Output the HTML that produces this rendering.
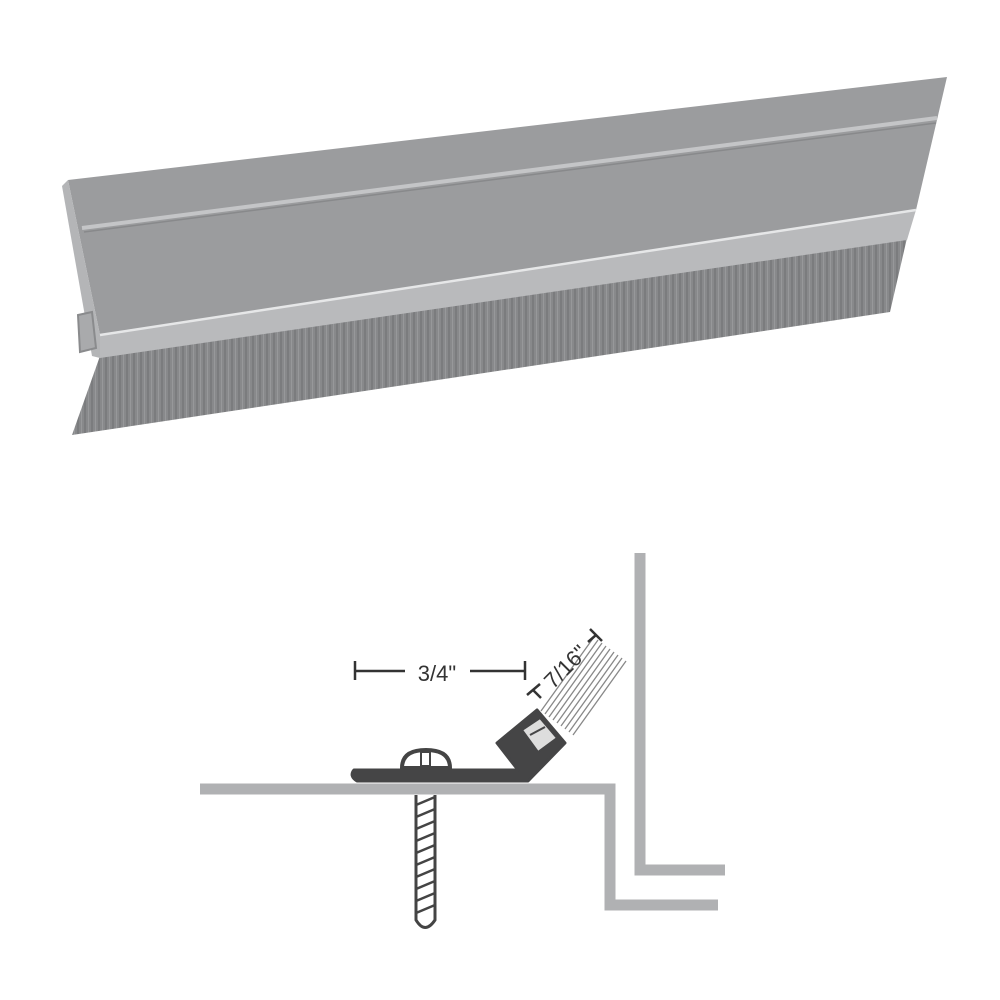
<!DOCTYPE html><html><head><style>body{margin:0;background:#fff}svg{display:block}</style></head><body>
<svg width="1000" height="1000" viewBox="0 0 1000 1000" xmlns="http://www.w3.org/2000/svg">
<defs>
<pattern id="br" width="7" height="10" patternUnits="userSpaceOnUse"><rect width="7" height="10" fill="#88898b"/><rect x="0" width="2" height="10" fill="#7b7c7e"/><rect x="4" width="1" height="10" fill="#97989a"/></pattern>
</defs>
<!-- brush -->
<polygon points="100,356 907,238 890,312 72,435" fill="url(#br)"/>
<!-- main face -->
<polygon points="68,180 947,77 916,210 100,335" fill="#9b9c9e"/>
<line x1="82" y1="228" x2="937" y2="118" stroke="#c4c5c7" stroke-width="4"/>
<line x1="84" y1="232" x2="936" y2="123" stroke="#88898b" stroke-width="1.5"/>
<!-- lower light strip -->
<polygon points="100,335 916,210 907,240 100,358" fill="#b9babc"/>
<line x1="100" y1="335" x2="916" y2="210" stroke="#e6e7e8" stroke-width="2.5"/>
<!-- end clip -->
<path d="M68,180 L100,335 L100,358 L92,356 L62,186 Z" fill="#b4b5b7"/>
<path d="M78,315 L92,312 L96,348 L80,352 Z" fill="#a9aaac" stroke="#8a8b8d" stroke-width="2"/>
<!-- bottom diagram -->
<g fill="none" stroke="#b0b1b3" stroke-width="11">
<polyline points="200,789 610,789 610,905 718,905"/>
<polyline points="640,553 640,870 725,870"/>
</g>
<!-- screw -->
<path d="M416,795 L416,920 Q425,935 435,920 L435,795" fill="#fff" stroke="#444" stroke-width="3"/>
<g stroke="#444" stroke-width="2.5"><line x1="416" y1="805" x2="435" y2="797"/><line x1="416" y1="817" x2="435" y2="809"/><line x1="416" y1="829" x2="435" y2="821"/><line x1="416" y1="841" x2="435" y2="833"/><line x1="416" y1="853" x2="435" y2="845"/><line x1="416" y1="865" x2="435" y2="857"/><line x1="416" y1="877" x2="435" y2="869"/><line x1="416" y1="889" x2="435" y2="881"/><line x1="416" y1="901" x2="435" y2="893"/><line x1="416" y1="913" x2="435" y2="905"/></g>
<!-- brush on bracket -->
<g stroke="#888" stroke-width="1.3">
<line x1="545" y1="714" x2="598" y2="640"/><line x1="549" y1="717" x2="602" y2="643"/><line x1="553" y1="720" x2="606" y2="646"/><line x1="557" y1="723" x2="610" y2="649"/><line x1="561" y1="726" x2="614" y2="652"/><line x1="565" y1="729" x2="618" y2="655"/><line x1="569" y1="732" x2="622" y2="658"/><line x1="573" y1="735" x2="626" y2="661"/><line x1="541" y1="711" x2="594" y2="637"/></g>
<!-- plate -->
<path d="M354,770 L518,770 L497,743 L537,710 L565,743 L528,781 L357,781 Q349,776 354,770 Z" fill="#454546" stroke="#454546" stroke-width="3" stroke-linejoin="round"/>
<path d="M522,730 L540,718 L557,738 L538,752 Z" fill="#ddd" stroke="#454546" stroke-width="2"/>
<path d="M530,735 L545,727" stroke="#454546" stroke-width="2"/>
<!-- screw head -->
<path d="M402,768 Q402,750 426,750 Q450,750 450,768 Z" fill="#fff" stroke="#444" stroke-width="4"/>
<rect x="421" y="752" width="9" height="14" fill="#fff" stroke="#444" stroke-width="2"/>
<!-- dimensions -->
<g stroke="#333" stroke-width="2.5">
<line x1="355" y1="661" x2="355" y2="680"/><line x1="355" y1="671" x2="405" y2="671"/>
<line x1="470" y1="671" x2="525" y2="671"/><line x1="525" y1="661" x2="525" y2="680"/>
<line x1="527" y1="695" x2="540" y2="684"/><line x1="533" y1="690" x2="541" y2="698"/>
<line x1="590" y1="629" x2="602" y2="641"/><line x1="596" y1="635" x2="588" y2="642"/>
</g>
<text x="437" y="681" font-family="Liberation Sans, sans-serif" font-size="22" fill="#333" text-anchor="middle">3/4"</text>
<text x="0" y="0" font-family="Liberation Sans, sans-serif" font-size="22" fill="#333" text-anchor="middle" transform="translate(571,672) rotate(-45)">7/16"</text>
</svg>
</body></html>
